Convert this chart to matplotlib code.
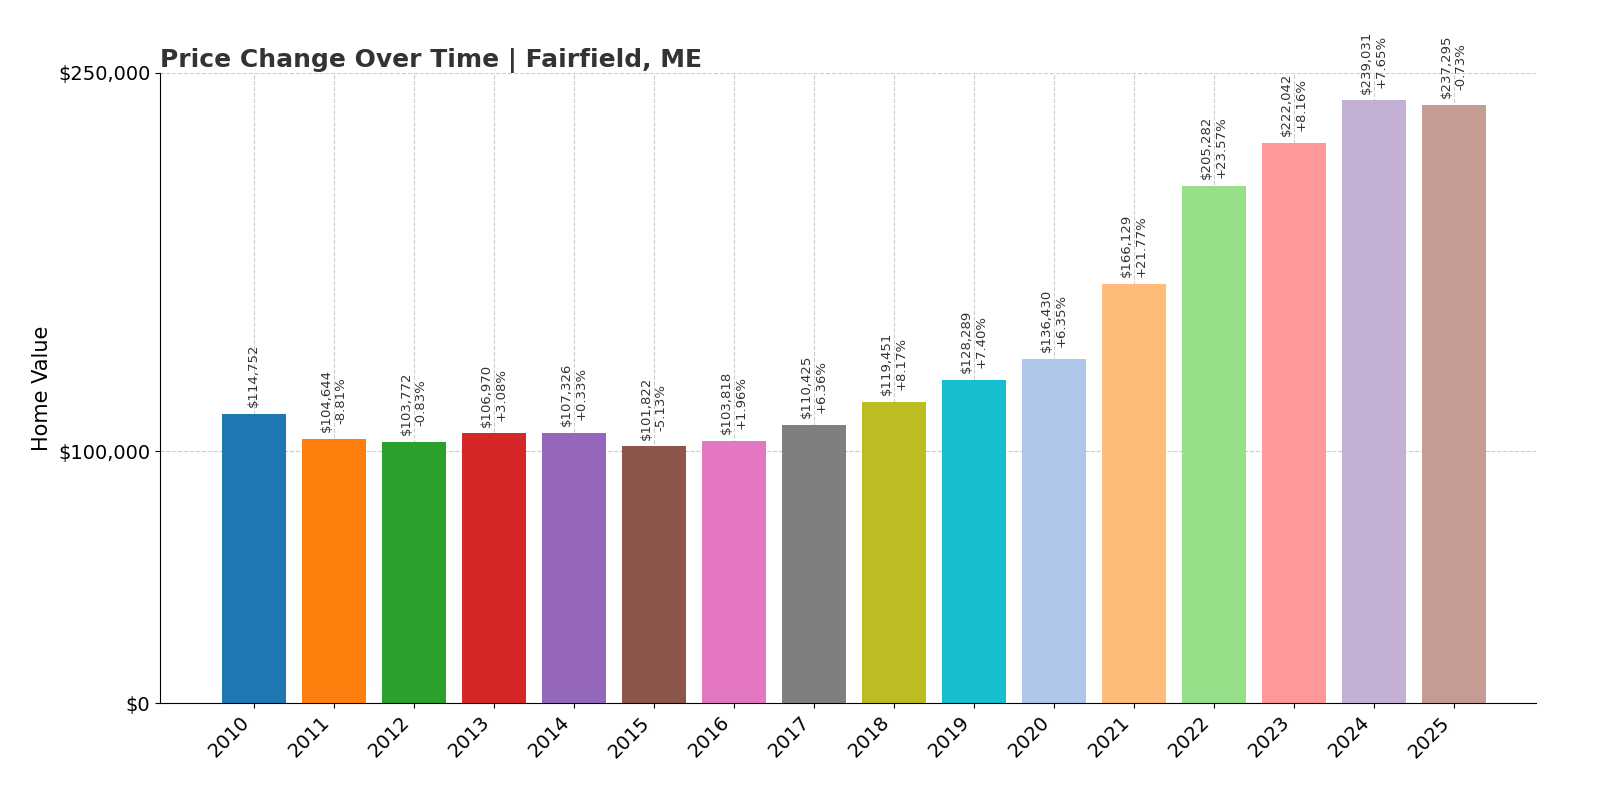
import matplotlib
matplotlib.use("Agg")
import matplotlib.pyplot as plt

years = ["2010", "2011", "2012", "2013", "2014", "2015", "2016", "2017",
         "2018", "2019", "2020", "2021", "2022", "2023", "2024", "2025"]
values = [114752, 104644, 103772, 106970, 107326, 101822, 103818, 110425,
          119451, 128289, 136430, 166129, 205282, 222042, 239031, 237295]
changes = [None, "-8.81%", "-0.83%", "+3.08%", "+0.33%", "-5.13%", "+1.96%", "+6.36%",
           "+8.17%", "+7.40%", "+6.35%", "+21.77%", "+23.57%", "+8.16%", "+7.65%", "-0.73%"]
colors = ["#1f77b4", "#ff7f0e", "#2ca02c", "#d62728", "#9467bd", "#8c564b",
          "#e377c2", "#7f7f7f", "#bcbd22", "#17becf", "#aec7e8", "#ffbb78",
          "#98df8a", "#ff9896", "#c5b0d5", "#c49c94"]

fig = plt.figure(figsize=(16, 8), dpi=100)
ax = fig.add_axes([0.1, 0.121, 0.86, 0.788])

x = range(len(years))
ax.bar(x, values, width=0.8, color=colors, zorder=2)
for i, v in enumerate(values):
    label = f"${v:,}" if changes[i] is None else f"${v:,}\n{changes[i]}"
    ax.annotate(label, (i, v), xytext=(0, 5), textcoords="offset points",
                rotation=90, ha="center", va="bottom", fontsize=9.5,
                color="#333333", annotation_clip=False)

ax.set_xlim(-1.17, 16.03)
ax.set_ylim(0, 250000)
ax.set_xticks(list(x))
ax.set_xticklabels(years, rotation=45, ha="right", fontsize=14)
ax.set_yticks([0, 100000, 250000])
ax.set_yticklabels(["$0", "$100,000", "$250,000"], fontsize=14)
ax.set_ylabel("Home Value", fontsize=15)
ax.grid(True, linestyle="--", color="#cccccc", linewidth=0.8, zorder=0)
ax.set_axisbelow(True)
for s in ["top", "right"]:
    ax.spines[s].set_visible(False)
ax.set_title("Price Change Over Time | Fairfield, ME", loc="left",
             fontsize=18, fontweight="bold", color="#333333", pad=4)

fig.savefig("out.png")
